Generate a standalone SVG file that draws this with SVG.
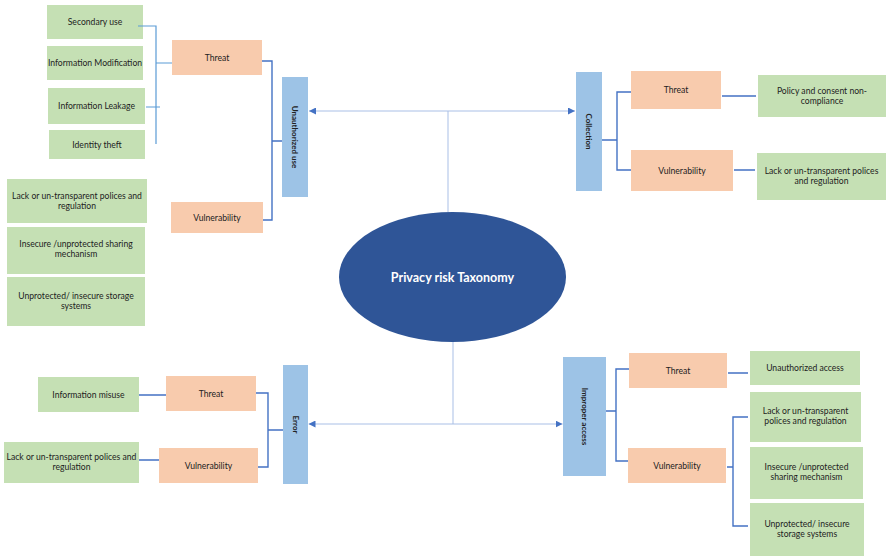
<svg xmlns="http://www.w3.org/2000/svg" width="886" height="557" viewBox="0 0 886 557">
<style>
.g{fill:#C5E0B4}
.o{fill:#F8CBAD}
.b{fill:#9DC3E6}
text{font-family:Lato,"Liberation Sans",sans-serif;font-size:8.6px;fill:#222;text-anchor:middle}
.v{font-weight:bold;font-size:8px}
.c{fill:#fff;font-weight:bold;font-size:12.5px}
.br{fill:none;stroke:#4472C4;stroke-width:1.4}
.lt{fill:none;stroke:#5B9BD5;stroke-width:1.2}
.ax{fill:none;stroke:#A9BFE6;stroke-width:1}
</style>
<defs>
<marker id="ah" viewBox="0 0 10 10" refX="10" refY="5" markerWidth="7" markerHeight="7" orient="auto-start-reverse" markerUnits="userSpaceOnUse">
<path d="M0,0 L10,5 L0,10 z" fill="#4472C4"/>
</marker>
</defs>
<rect width="886" height="557" fill="#fff"/>

<g id="center"><ellipse cx="452.5" cy="277" rx="113.5" ry="65" fill="#2F5597"/><text class="c" x="452.5" y="281.5">Privacy risk Taxonomy</text></g>

<g id="unauthorized-use"><rect class="b" x="282" y="77" width="26" height="120"/><text class="v" transform="translate(292,137) rotate(90)">Unauthorized use</text></g>
<g id="uu-threat"><rect class="o" x="172" y="40" width="90" height="35"/><text x="217" y="60.5">Threat</text></g>
<g id="uu-vulnerability"><rect class="o" x="171" y="202" width="92" height="31"/><text x="217" y="220.5">Vulnerability</text></g>
<g id="secondary-use"><rect class="g" x="47" y="5" width="96" height="34"/><text x="95" y="25">Secondary use</text></g>
<g id="info-modification"><rect class="g" x="47" y="46" width="96" height="34"/><text x="95" y="66">Information Modification</text></g>
<g id="info-leakage"><rect class="g" x="48" y="88" width="97" height="36"/><text x="96.5" y="109">Information Leakage</text></g>
<g id="identity-theft"><rect class="g" x="49" y="130" width="96" height="29"/><text x="97" y="147.5">Identity theft</text></g>
<g id="uu-lack"><rect class="g" x="7" y="179" width="140" height="44"/><text x="77" y="198.5">Lack or un-transparent polices and<tspan x="77" dy="10">regulation</tspan></text></g>
<g id="uu-insecure"><rect class="g" x="7" y="227" width="138" height="47"/><text x="76" y="247">Insecure /unprotected sharing<tspan x="76" dy="10">mechanism</tspan></text></g>
<g id="uu-unprotected"><rect class="g" x="7" y="277" width="138" height="49"/><text x="76" y="299">Unprotected/ insecure storage<tspan x="76" dy="10">systems</tspan></text></g>

<g id="collection"><rect class="b" x="576" y="72" width="26" height="119"/><text class="v" transform="translate(586,131.5) rotate(90)">Collection</text></g>
<g id="col-threat"><rect class="o" x="631" y="71" width="90" height="38"/><text x="676" y="93">Threat</text></g>
<g id="col-vulnerability"><rect class="o" x="631" y="150" width="102" height="41"/><text x="682" y="173.5">Vulnerability</text></g>
<g id="col-policy"><rect class="g" x="758" y="75" width="128" height="42"/><text x="822" y="93.5">Policy and consent non-<tspan x="822" dy="10">compliance</tspan></text></g>
<g id="col-lack"><rect class="g" x="757" y="153" width="129" height="47"/><text x="821.5" y="174">Lack or un-transparent polices<tspan x="821.5" dy="10">and regulation</tspan></text></g>

<g id="error"><rect class="b" x="283" y="365" width="25" height="119"/><text class="v" transform="translate(292.5,424.5) rotate(90)">Error</text></g>
<g id="err-threat"><rect class="o" x="166" y="376" width="90" height="35"/><text x="211" y="396.5">Threat</text></g>
<g id="err-vulnerability"><rect class="o" x="159" y="448" width="99" height="35"/><text x="208.5" y="468.5">Vulnerability</text></g>
<g id="err-misuse"><rect class="g" x="38" y="377" width="101" height="35"/><text x="88.5" y="397.5">Information misuse</text></g>
<g id="err-lack"><rect class="g" x="4" y="442" width="135" height="41"/><text x="71.5" y="460">Lack or un-transparent polices and<tspan x="71.5" dy="10">regulation</tspan></text></g>

<g id="improper-access"><rect class="b" x="563" y="357" width="43" height="119"/><text class="v" transform="translate(581.5,416.5) rotate(90)">Improper access</text></g>
<g id="ia-threat"><rect class="o" x="629" y="353" width="98" height="35"/><text x="678" y="373.5">Threat</text></g>
<g id="ia-vulnerability"><rect class="o" x="628" y="448" width="98" height="35"/><text x="677" y="468.5">Vulnerability</text></g>
<g id="ia-unauth"><rect class="g" x="750" y="351" width="110" height="34"/><text x="805" y="371">Unauthorized access</text></g>
<g id="ia-lack"><rect class="g" x="750" y="392" width="111" height="50"/><text x="805.5" y="414">Lack or un-transparent<tspan x="805.5" dy="10">polices and regulation</tspan></text></g>
<g id="ia-insecure"><rect class="g" x="750" y="447" width="113" height="52"/><text x="806.5" y="470">Insecure /unprotected<tspan x="806.5" dy="10">sharing mechanism</tspan></text></g>
<g id="ia-unprotected"><rect class="g" x="750" y="503" width="114" height="53"/><text x="807" y="527">Unprotected/ insecure<tspan x="807" dy="10">storage systems</tspan></text></g>

<g id="connectors">
<path class="ax" d="M448,111 V212"/>
<path class="ax" d="M309,111 H575" marker-start="url(#ah)" marker-end="url(#ah)"/>
<path class="ax" d="M453,342 V424"/>
<path class="ax" d="M308.5,424 H562.5" marker-start="url(#ah)" marker-end="url(#ah)"/>
<path class="lt" d="M138,26 H156 V144 M156,63 H172 M146,107 H160"/>
<path class="br" d="M262,61 H272 V220 H263 M272,141 H282"/>
<path class="br" d="M602,140 H617 M631,92 H617 V170 H631"/>
<path class="br" d="M722,96 H756 M734,170 H755"/>
<path class="br" d="M256,393 H268 V467 H258 M268,430 H283"/>
<path class="br" d="M139,395 H166 M139,460 H159"/>
<path class="br" d="M606,411 H616 M629,369 H616 V461 H628"/>
<path class="br" d="M728,373 H748 M727,467 H733 M748,417 H733 V526 H748"/>
</g>
</svg>
